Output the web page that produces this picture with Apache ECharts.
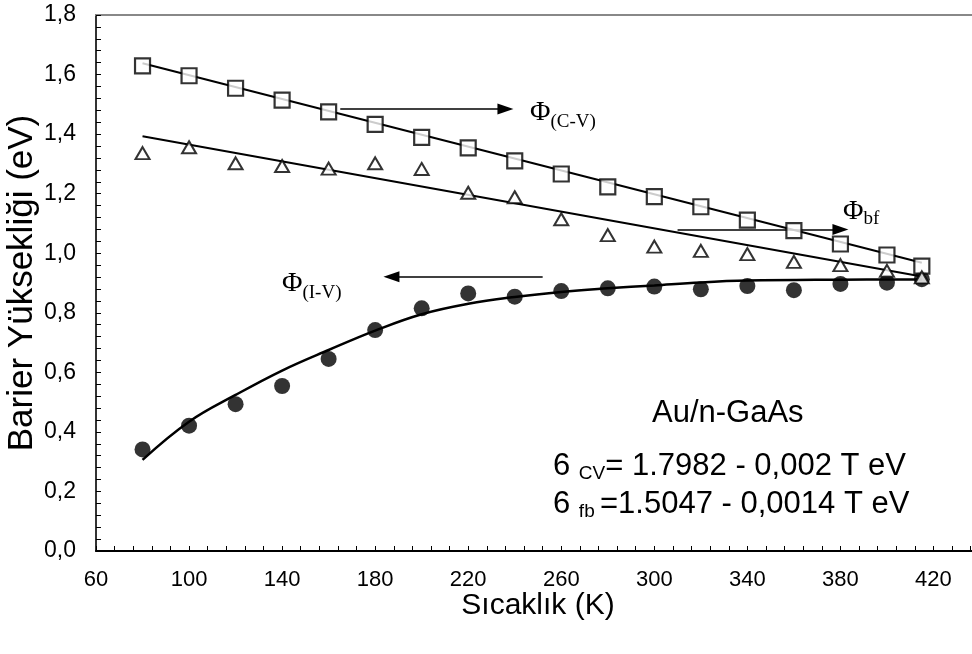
<!DOCTYPE html>
<html>
<head>
<meta charset="utf-8">
<script src="https://cdn.jsdelivr.net/npm/echarts@6/dist/echarts.min.js"></script>
<style>
  html, body { margin: 0; padding: 0; background: #fff; }
  #chart { width: 972px; height: 654px; }
</style>
</head>
<body>
<div id="chart"></div>
<script>
// Temperature (K) of each measurement
const temps = [80, 100, 120, 140, 160, 180, 200, 220, 240, 260, 280, 300, 320, 340, 360, 380, 400, 415];
// Barrier height from C-V (squares)
const phiCV = [1.629, 1.596, 1.554, 1.514, 1.475, 1.433, 1.389, 1.354, 1.310, 1.266, 1.223, 1.190, 1.156, 1.111, 1.076, 1.031, 0.994, 0.957];
// Flat-band barrier height (triangles)
const phiBF = [1.336, 1.356, 1.302, 1.293, 1.284, 1.302, 1.283, 1.203, 1.188, 1.114, 1.061, 1.022, 1.008, 0.997, 0.971, 0.960, 0.941, 0.919];
// Barrier height from I-V (filled circles)
const phiIV = [0.341, 0.421, 0.493, 0.554, 0.645, 0.742, 0.815, 0.865, 0.854, 0.873, 0.882, 0.888, 0.879, 0.890, 0.876, 0.897, 0.901, 0.913];

// Linear fits (end points)
const fitCV = [[80, 1.638], [415, 0.968]];
const fitBF = [[80, 1.393], [415, 0.922]];
// Trend curve through the I-V values
const curveIV_T = [80, 100, 120, 140, 160, 180, 200, 220, 240, 260, 280, 300, 320, 340, 380, 415];
const curveIV_V = [0.306, 0.434, 0.524, 0.606, 0.675, 0.740, 0.795, 0.830, 0.853, 0.870, 0.882, 0.892, 0.902, 0.908, 0.911, 0.912];

// Arrows: [start, end] in (T, eV)
const arrowCV = [[165, 1.484], [236, 1.484]];
const arrowBF = [[310, 1.080], [380, 1.080]];
const arrowIV = [[252, 0.921], [187, 0.921]];

// Tick labels
const xTickLabels = ['60', '100', '140', '180', '220', '260', '300', '340', '380', '420'];
const yTickLabels = ['0,0', '0,2', '0,4', '0,6', '0,8', '1,0', '1,2', '1,4', '1,6', '1,8'];

const SANS = '"Liberation Sans", Arial, sans-serif';
const SERIF = '"Liberation Serif", "Times New Roman", serif';

const pairs = (xs, ys) => xs.map((x, i) => [x, ys[i]]);

const chart = echarts.init(document.getElementById('chart'), null, { renderer: 'canvas' });

// Text run helper: places pieces side by side, each with its own font and vertical offset
const measureCtx = document.createElement('canvas').getContext('2d');
function textRun(x, yc, parts) {
  const out = [];
  let cx = x;
  parts.forEach(p => {
    const font = p.size + 'px ' + p.family;
    measureCtx.font = font;
    out.push({
      type: 'text', x: cx, y: yc + (p.dy || 0),
      style: { text: p.text, font: font, fill: '#000', textVerticalAlign: 'middle', textAlign: 'left' },
      silent: true
    });
    cx += measureCtx.measureText(p.text).width;
  });
  return out;
}

const arrowLine = (pts) => ({
  symbol: ['none', 'triangle'],
  symbolSize: [11, 16],
  silent: true,
  label: { show: false },
  lineStyle: { color: '#000', width: 1.5, type: 'solid' },
  data: [[{ coord: pts[0] }, { coord: pts[1] }]]
});

const graphics = [].concat(
  textRun(530, 113, [{ text: 'Φ', size: 28, family: SERIF }, { text: '(C-V)', size: 19, family: SERIF, dy: 9 }]),
  textRun(843, 212, [{ text: 'Φ', size: 28, family: SERIF }, { text: 'bf', size: 19, family: SERIF, dy: 7 }]),
  textRun(282, 284, [{ text: 'Φ', size: 28, family: SERIF }, { text: '(I-V)', size: 19, family: SERIF, dy: 9 }]),
  textRun(652, 413, [{ text: 'Au/n-GaAs', size: 31, family: SANS }]),
  textRun(553, 466, [{ text: '6 ', size: 31, family: SANS }, { text: 'CV', size: 19, family: SANS, dy: 8 }, { text: '= 1.7982 - 0,002 T eV', size: 31, family: SANS }]),
  textRun(553, 504, [{ text: '6 ', size: 31, family: SANS }, { text: 'fb ', size: 19, family: SANS, dy: 8 }, { text: '=1.5047 - 0,0014 T eV', size: 31, family: SANS }])
);

const option = {
  backgroundColor: '#fff',
  animation: false,
  grid: { left: 96, top: 15, right: -8, bottom: 103, containLabel: false, outerBoundsMode: 'none' },
  xAxis: [{
    type: 'value', min: 60, max: 440, interval: 40,
    name: 'Sıcaklık (K)', nameLocation: 'middle', nameGap: 40, nameMoveOverlap: false,
    nameTextStyle: { fontFamily: SANS, fontSize: 30, color: '#000' },
    axisLine: { lineStyle: { color: '#000', width: 2 } },
    axisTick: { inside: true, length: 5, lineStyle: { color: '#000', width: 1 } },
    minorTick: { show: true, splitNumber: 5, length: 5, lineStyle: { color: '#000', width: 1 } },
    splitLine: { show: false },
    axisLabel: {
      margin: 18, fontFamily: SANS, fontSize: 22, color: '#000',
      formatter: v => { const i = Math.round((v - 60) / 40); return (i >= 0 && i < xTickLabels.length) ? xTickLabels[i] : ''; }
    }
  }, {
    type: 'value', min: 60, max: 440, position: 'top',
    axisLine: { lineStyle: { color: '#888', width: 2 } },
    axisTick: { show: false }, axisLabel: { show: false }, splitLine: { show: false }
  }],
  yAxis: {
    type: 'value', min: 0, max: 1.8, interval: 0.2,
    name: 'Barier Yüksekliği (eV)', nameLocation: 'middle', nameGap: 56, nameMoveOverlap: false,
    nameTextStyle: { fontFamily: SANS, fontSize: 35, color: '#000' },
    axisLine: { lineStyle: { color: '#333', width: 2 } },
    axisTick: { inside: true, length: 5, lineStyle: { color: '#000', width: 1 } },
    minorTick: { show: true, splitNumber: 5, length: 5, lineStyle: { color: '#000', width: 1 } },
    splitLine: { show: false },
    axisLabel: {
      margin: 20, fontFamily: SANS, fontSize: 23, color: '#000',
      formatter: v => { const i = Math.round(v / 0.2); return (i >= 0 && i < yTickLabels.length) ? yTickLabels[i] : ''; }
    }
  },
  series: [
    {
      name: 'fitCV', type: 'line', data: fitCV, showSymbol: false, silent: true,
      lineStyle: { color: '#000', width: 2 }, markLine: arrowLine(arrowCV)
    },
    {
      name: 'fitBF', type: 'line', data: fitBF, showSymbol: false, silent: true,
      lineStyle: { color: '#000', width: 2 }, markLine: arrowLine(arrowBF)
    },
    {
      name: 'curveIV', type: 'line', data: pairs(curveIV_T, curveIV_V), smooth: 0.4,
      showSymbol: false, silent: true,
      lineStyle: { color: '#000', width: 2.5 }, markLine: arrowLine(arrowIV)
    },
    {
      name: 'Φ(C-V)', type: 'scatter', data: pairs(temps, phiCV), symbol: 'rect', symbolSize: 15,
      itemStyle: { color: '#fff', borderColor: '#000', borderWidth: 2.2 }, z: 5
    },
    {
      name: 'Φbf', type: 'scatter', data: pairs(temps, phiBF), symbol: 'triangle', symbolSize: [14, 12],
      itemStyle: { color: '#fff', borderColor: '#000', borderWidth: 2 }, z: 5
    },
    {
      name: 'Φ(I-V)', type: 'scatter', data: pairs(temps, phiIV), symbol: 'circle', symbolSize: 16,
      itemStyle: { color: '#000' }, z: 4
    }
  ],
  graphic: graphics
};

chart.setOption(option);
</script>
</body>
</html>
